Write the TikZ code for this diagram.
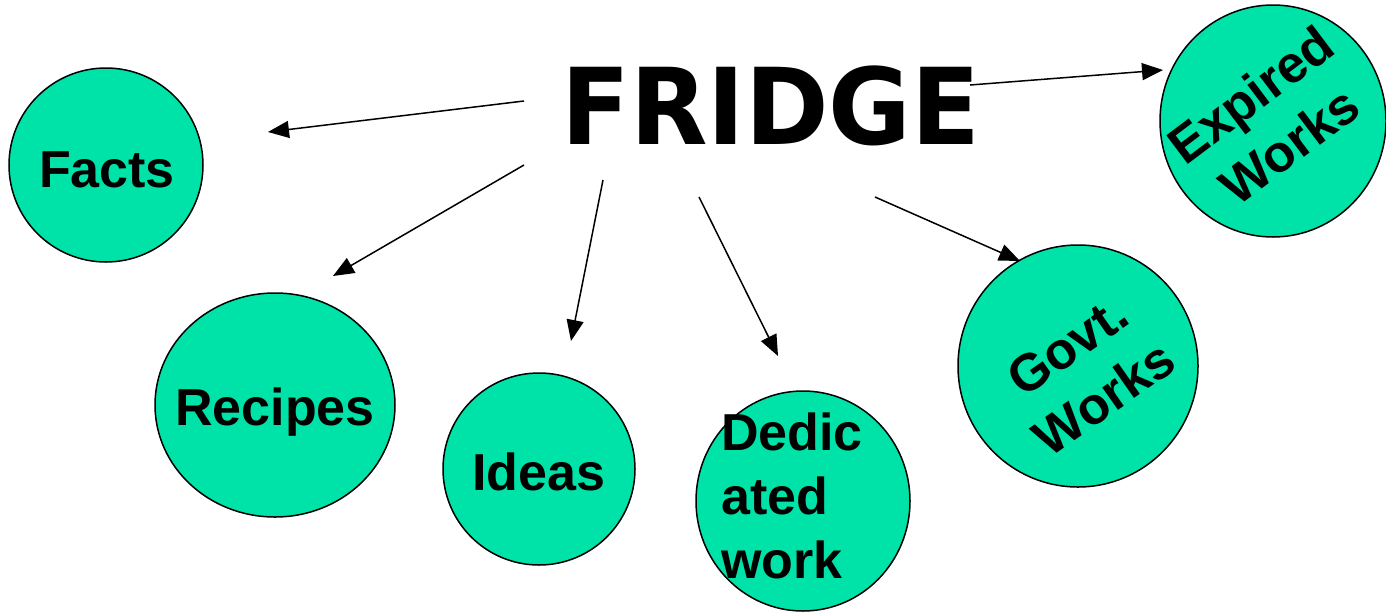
\documentclass[tikz,border=0pt]{standalone}
\usepackage{fontspec}
\setmainfont{Liberation Sans}
\newfontfamily\titlefont{DejaVu Sans}
\usetikzlibrary{arrows.meta}
\definecolor{mint}{HTML}{00E3A8}
\begin{document}
\begin{tikzpicture}[x=1pt,y=-1pt,
  bubble/.style={draw=black,line width=1.5pt,fill=mint},
  label/.style={font=\fontsize{52}{64}\selectfont\bfseries,inner sep=0pt},
  arr/.style={line width=1.5pt,-{Triangle[length=21pt,width=17pt]}}]
\useasboundingbox (0,0) rectangle (1386,611);
% circles
\filldraw[bubble] (106,165) ellipse [x radius=97,y radius=97];
\filldraw[bubble] (275,405) ellipse [x radius=120,y radius=112];
\filldraw[bubble] (539,469) ellipse [x radius=96,y radius=96];
\filldraw[bubble] (803,501) ellipse [x radius=107,y radius=110];
\filldraw[bubble] (1078,366) ellipse [x radius=120,y radius=121];
\filldraw[bubble] (1273,121) ellipse [x radius=113,y radius=116];
% labels
\node[inner sep=0pt,anchor=base,xscale=0.95,font=\titlefont\fontsize{106}{120}\selectfont\bfseries] (fridge) at (771,144) {FRIDGE};
\node[label,anchor=base] (facts) at (107,187) {Facts};
\node[label,anchor=base] (recipes) at (275,425) {Recipes};
\node[label,anchor=base] (ideas) at (539,490) {Ideas};
\node[label,align=left,anchor=center] (dedicated) at (792,496) {Dedic\\ated\\work};
\node[label,align=center,rotate=35] (govt) at (1086,372) {Govt.\\Works};
\node[label,align=center,rotate=37] (expired) at (1270,120) {Expired\\Works};
% arrow end points
\coordinate (s1) at (524,101); \coordinate (t1) at (268,132);
\coordinate (s2) at (524,165); \coordinate (t2) at (333,276);
\coordinate (s3) at (603,180); \coordinate (t3) at (571,341);
\coordinate (s4) at (699,197); \coordinate (t4) at (778,356);
\coordinate (s5) at (875,197); \coordinate (t5) at (1020,261);
\coordinate (s6) at (970,85);  \coordinate (t6) at (1163,70);
\draw[arr] (s1) -- (t1);
\draw[arr] (s2) -- (t2);
\draw[arr] (s3) -- (t3);
\draw[arr] (s4) -- (t4);
\draw[arr] (s5) -- (t5);
\draw[arr] (s6) -- (t6);
\end{tikzpicture}
\end{document}
